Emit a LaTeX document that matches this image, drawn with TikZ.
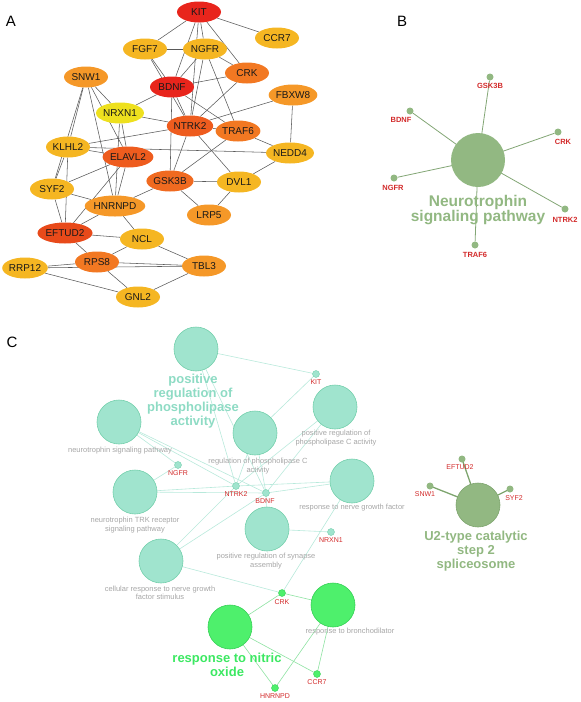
\documentclass[tikz,border=0pt]{standalone}
\usepackage{fontspec}
\setmainfont{Liberation Sans}
\usetikzlibrary{shapes.geometric,backgrounds}
\definecolor{cRed}{HTML}{E8251C}
\definecolor{cOrRed}{HTML}{EE5C1E}
\definecolor{cEft}{HTML}{E84A1A}
\definecolor{cGsk}{HTML}{F06A20}
\definecolor{cOrange}{HTML}{F27822}
\definecolor{cLtOr}{HTML}{F59828}
\definecolor{cYelOr}{HTML}{F5B622}
\definecolor{cYel}{HTML}{EEE01E}
\definecolor{sage}{HTML}{92B882}
\definecolor{sageD}{HTML}{7EA56E}
\definecolor{teal}{HTML}{A0E4CE}
\definecolor{tealD}{HTML}{74CFAC}
\definecolor{tealT}{HTML}{8EDBC4}
\definecolor{tealE}{HTML}{B8E9DB}
\definecolor{lime}{HTML}{4EF06C}
\definecolor{limeD}{HTML}{36D056}
\definecolor{limeT}{HTML}{3CE862}
\definecolor{limeE}{HTML}{8EE2A2}
\definecolor{gred}{HTML}{D22A2A}
\tikzset{
  gn/.style={ellipse, minimum width=44pt, minimum height=21pt, inner sep=0pt,
    font=\fontsize{10}{10}\selectfont, text=black!90},
  aedge/.style={draw=black!65, line width=0.55pt},
  panel/.style={font=\fontsize{15}{15}\selectfont},
  bdot/.style={circle, fill=sage, minimum size=7pt, inner sep=0pt},
  blab/.style={font=\bfseries\fontsize{7.5}{7.5}\selectfont, text=gred, inner sep=1pt},
  bedge/.style={draw=sage!90!black, line width=0.8pt},
  tcirc/.style={circle, fill=teal, draw=tealD, line width=0.6pt, minimum size=44pt, inner sep=0pt},
  lcirc/.style={circle, fill=lime, draw=limeD, line width=0.6pt, minimum size=44pt, inner sep=0pt},
  tdot/.style={circle, fill=teal, draw=tealD, line width=0.4pt, minimum size=7pt, inner sep=0pt},
  ldot/.style={circle, fill=lime, draw=limeD, line width=0.4pt, minimum size=7pt, inner sep=0pt},
  glab/.style={font=\fontsize{7}{7}\selectfont, text=gred, inner sep=0.5pt},
  glabs/.style={font=\fontsize{7.5}{8.5}\selectfont, text=black!35, align=center, inner sep=0pt},
  bigT/.style={font=\bfseries\fontsize{13}{14}\selectfont, align=center, inner sep=0pt},
  tedge/.style={draw=tealE, line width=0.6pt},
  ledge/.style={draw=limeE, line width=0.6pt},
  uedge/.style={draw=sageD, line width=1.3pt},
}
\begin{document}
\begin{tikzpicture}[x=1pt,y=-1pt]
\useasboundingbox (0,0) rectangle (581,702);
\node[panel] (la) at (11,21) {A};
\node[panel] (lb) at (402,21) {B};
\node[panel] (lc) at (12,342) {C};

% ---------- Panel A ----------
\node[gn, fill=cRed] (KIT) at (199,12) {KIT};
\node[gn, fill=cYelOr] (CCR7) at (277,38) {CCR7};
\node[gn, fill=cYelOr] (FGF7) at (145,49) {FGF7};
\node[gn, fill=cYelOr] (NGFR) at (205,49) {NGFR};
\node[gn, fill=cOrange] (CRK) at (247,73) {CRK};
\node[gn, fill=cRed] (BDNF) at (172,87) {BDNF};
\node[gn, fill=cLtOr] (SNW1) at (86,77) {SNW1};
\node[gn, fill=cLtOr] (FBXW8) at (293,95) {FBXW8};
\node[gn, fill=cYel] (NRXN1) at (120,113) {NRXN1};
\node[gn, fill=cOrRed] (NTRK2) at (190,126) {NTRK2};
\node[gn, fill=cOrange] (TRAF6) at (238,131) {TRAF6};
\node[gn, fill=cYelOr] (KLHL2) at (68,147) {KLHL2};
\node[gn, fill=cOrRed] (ELAVL2) at (128,157) {ELAVL2};
\node[gn, fill=cYelOr] (NEDD4) at (290,153) {NEDD4};
\node[gn, fill=cGsk] (GSK3B) at (170,181) {GSK3B};
\node[gn, fill=cYelOr] (DVL1) at (239,182) {DVL1};
\node[gn, fill=cYelOr] (SYF2) at (52,189) {SYF2};
\node[gn, fill=cLtOr] (HNRNPD) at (115,206) {HNRNPD};
\node[gn, fill=cLtOr] (LRP5) at (209,215) {LRP5};
\node[gn, fill=cEft] (EFTUD2) at (65,233) {EFTUD2};
\node[gn, fill=cYelOr] (NCL) at (142,239) {NCL};
\node[gn, fill=cOrange] (RPS8) at (97,262) {RPS8};
\node[gn, fill=cYelOr] (RRP12) at (25,268) {RRP12};
\node[gn, fill=cLtOr] (TBL3) at (204,266) {TBL3};
\node[gn, fill=cYelOr] (GNL2) at (138,297) {GNL2};

\begin{scope}[on background layer]
\foreach \a/\b in {KIT/FGF7, KIT/CCR7, KIT/NGFR, KIT/BDNF, KIT/CRK, KIT/NTRK2,
  FGF7/NGFR, FGF7/BDNF, FGF7/NTRK2,
  NGFR/BDNF, NGFR/CRK, NGFR/NTRK2, NGFR/TRAF6,
  CRK/BDNF, CRK/NTRK2,
  BDNF/NRXN1, BDNF/NTRK2, BDNF/TRAF6, BDNF/GSK3B,
  FBXW8/NTRK2, FBXW8/NEDD4,
  NRXN1/SNW1, NRXN1/NTRK2, NRXN1/ELAVL2, NRXN1/HNRNPD,
  NTRK2/KLHL2, NTRK2/GSK3B, NTRK2/DVL1, NTRK2/TRAF6,
  TRAF6/NEDD4, TRAF6/GSK3B,
  KLHL2/NEDD4, KLHL2/SNW1, KLHL2/SYF2, KLHL2/EFTUD2, KLHL2/ELAVL2,
  NEDD4/DVL1, GSK3B/DVL1, GSK3B/LRP5, GSK3B/HNRNPD, DVL1/LRP5,
  SNW1/SYF2, SNW1/ELAVL2, SNW1/HNRNPD,
  ELAVL2/SYF2, ELAVL2/EFTUD2, ELAVL2/HNRNPD,
  SYF2/EFTUD2, SYF2/HNRNPD, HNRNPD/EFTUD2, HNRNPD/NCL,
  EFTUD2/NCL, EFTUD2/RPS8, NCL/RPS8, NCL/TBL3,
  RPS8/RRP12, RPS8/TBL3, RPS8/GNL2, RRP12/GNL2, RRP12/TBL3, TBL3/GNL2}
  \draw[aedge] (\a) -- (\b);
\end{scope}

% ---------- Panel B ----------
\node[circle, fill=sage, minimum size=54pt, inner sep=0pt] (NP) at (478,160) {};
\node[bdot] (bGSK) at (490,77) {};
\node[bdot] (bBDNF) at (410,111) {};
\node[bdot] (bCRK) at (558,132) {};
\node[bdot] (bNGFR) at (394,178) {};
\node[bdot] (bNTRK) at (565,209) {};
\node[bdot] (bTRAF) at (475,245) {};
\begin{scope}[on background layer]
\foreach \d in {bGSK,bBDNF,bCRK,bNGFR,bNTRK,bTRAF}
  \draw[bedge] (\d) -- (NP.center);
\end{scope}
\node[blab] (tGSK) at (490,86) {GSK3B};
\node[blab] (tBDNF) at (401,120) {BDNF};
\node[blab] (tCRK) at (563,142) {CRK};
\node[blab] (tNGFR) at (393,188) {NGFR};
\node[blab] (tNTRK) at (565,220) {NTRK2};
\node[blab] (tTRAF) at (475,255) {TRAF6};
\node[font=\bfseries\fontsize{15.5}{14.5}\selectfont, text=sage, align=center, inner sep=0pt]
  (NPt) at (478,210) {Neurotrophin\\signaling pathway};

% ---------- Panel C ----------
\node[tcirc] (PRPA) at (196,349) {};
\node[tcirc] (NSP) at (119,422) {};
\node[tcirc] (RPCA) at (255,433) {};
\node[tcirc] (PRPC) at (335,407) {};
\node[tcirc] (TRK) at (135,492) {};
\node[tcirc] (RNGF) at (352,481) {};
\node[tcirc] (PRSA) at (267,529) {};
\node[tcirc] (CRNGF) at (161,561) {};
\node[lcirc] (RBRO) at (333,605) {};
\node[lcirc] (RNO) at (230,627) {};
\node[circle, fill=sage, draw=sageD, line width=0.6pt, minimum size=44pt, inner sep=0pt] (U2) at (478,505) {};

\node[tdot] (cKIT) at (316,374) {};
\node[tdot] (cNGFR) at (178,465) {};
\node[tdot] (cNTRK) at (236,486) {};
\node[tdot] (cBDNF) at (266,493) {};
\node[tdot] (cNRXN) at (331,532) {};
\node[ldot] (cCRK) at (282,593) {};
\node[ldot] (cCCR7) at (317,674) {};
\node[ldot] (cHNR) at (275,688) {};
\node[circle, fill=sage, minimum size=7pt, inner sep=0pt] (uEFT) at (462,459) {};
\node[circle, fill=sage, minimum size=7pt, inner sep=0pt] (uSNW) at (430,486) {};
\node[circle, fill=sage, minimum size=7pt, inner sep=0pt] (uSYF) at (510,489) {};

\begin{scope}[on background layer]
\foreach \c/\g in {PRPA/cKIT, PRPA/cNTRK, PRPA/cBDNF,
  RPCA/cKIT, RPCA/cNTRK, RPCA/cBDNF,
  PRPC/cNTRK, PRPC/cBDNF,
  NSP/cNGFR, NSP/cNTRK, NSP/cBDNF,
  TRK/cNGFR, TRK/cNTRK, TRK/cBDNF,
  RNGF/cNTRK, RNGF/cBDNF, RNGF/cCRK,
  PRSA/cNRXN, PRSA/cBDNF,
  CRNGF/cNTRK, CRNGF/cBDNF, CRNGF/cCRK}
  \draw[tedge] (\c.center) -- (\g.center);
\foreach \c/\g in {RBRO/cCRK, RBRO/cCCR7, RBRO/cHNR, RNO/cCRK, RNO/cCCR7, RNO/cHNR}
  \draw[ledge] (\c.center) -- (\g.center);
\foreach \g in {uEFT, uSNW, uSYF}
  \draw[uedge] (U2.center) -- (\g.center);
\end{scope}

\node[glab] (lKIT) at (316,382) {KIT};
\node[glab] (lNGFR) at (178,473) {NGFR};
\node[glab] (lNTRK) at (236,494) {NTRK2};
\node[glab] (lBDNF) at (265,501) {BDNF};
\node[glab] (lNRXN) at (331,540) {NRXN1};
\node[glab] (lCRK) at (282,602) {CRK};
\node[glab] (lCCR7) at (317,682) {CCR7};
\node[glab] (lHNR) at (275,696) {HNRNPD};
\node[glab] (lEFT) at (460,467) {EFTUD2};
\node[glab] (lSNW) at (425,494) {SNW1};
\node[glab] (lSYF) at (514,498) {SYF2};

\node[bigT, text=tealT] (tPRPA) at (193,401) {positive\\regulation of\\phospholipase\\activity};
\node[glabs] (tNSP) at (120,451) {neurotrophin signaling pathway};
\node[glabs] (tRPCA) at (258,466) {regulation of phospholipase C\\activity};
\node[glabs] (tPRPC) at (336,438) {positive regulation of\\phospholipase C activity};
\node[glabs] (tTRK) at (135,525) {neurotrophin TRK receptor\\signaling pathway};
\node[glabs] (tRNGF) at (352,508) {response to nerve growth factor};
\node[glabs] (tPRSA) at (266,561) {positive regulation of synapse\\assembly};
\node[glabs] (tCRNGF) at (160,593) {cellular response to nerve growth\\factor stimulus};
\node[glabs] (tRBRO) at (350,632) {response to bronchodilator};
\node[bigT, text=limeT] (tRNO) at (227,665) {response to nitric\\oxide};
\node[bigT, text=sage] (tU2) at (476,551) {U2-type catalytic\\step 2\\spliceosome};
\end{tikzpicture}
\end{document}
